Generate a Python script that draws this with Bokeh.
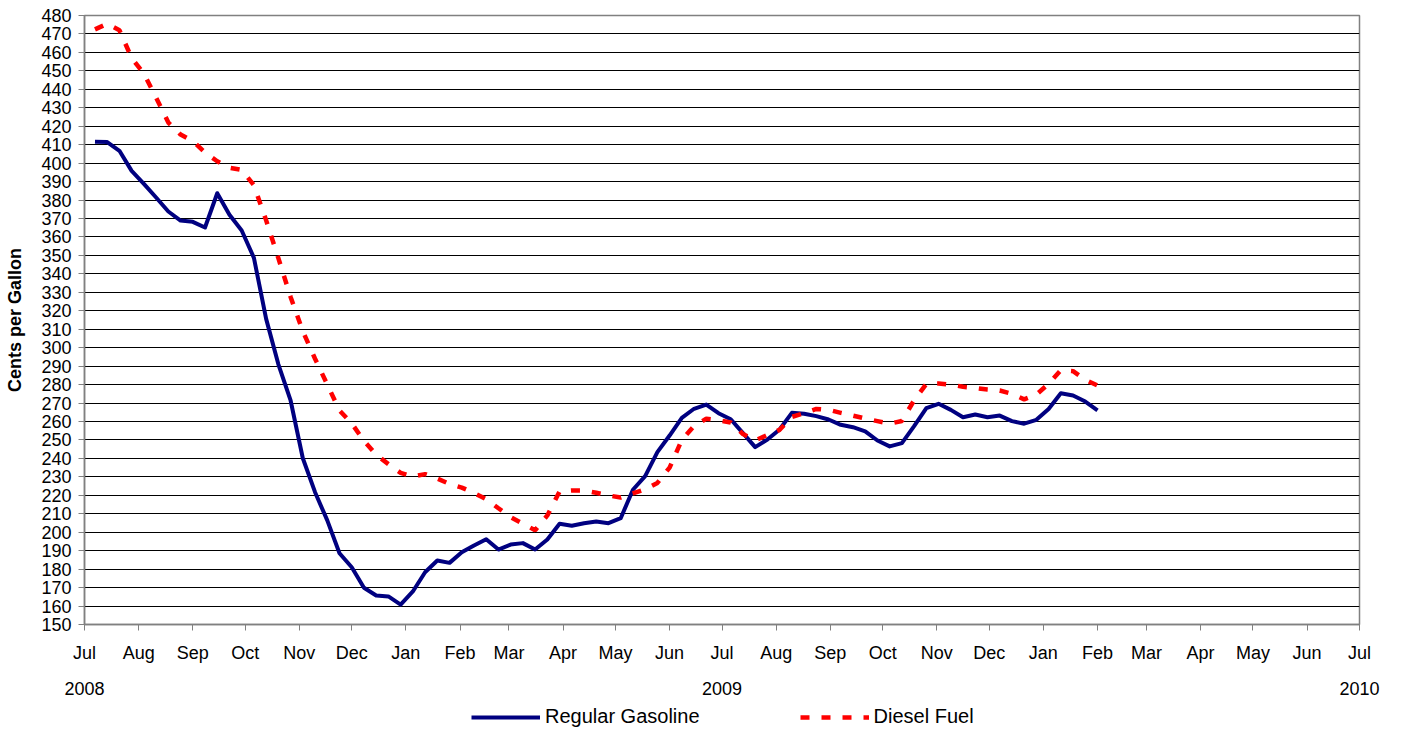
import pandas as pd
from bokeh.plotting import figure
from bokeh.layouts import column
from bokeh.models import (Range1d, DatetimeTickFormatter, MonthsTicker, FixedTicker,
                          Legend, LegendItem, ColumnDataSource, DatetimeAxis)
from bokeh.embed import file_html
from bokeh.resources import INLINE

# ---------------- data (cents per gallon, weekly) ----------------
first_week = "2008-07-07"
gasoline = [411.6, 411.4, 406.7, 395.8, 388.8, 381.4, 373.8, 368.9, 368.2, 365.1,
            383.7, 372.0, 363.5, 348.7, 315.6, 291.0, 271.4, 240.1, 221.7, 206.4,
            188.6, 181.0, 169.9, 165.7, 165.2, 160.8, 167.9, 178.3, 184.7, 183.4,
            189.1, 192.8, 196.2, 190.6, 193.3, 194.1, 190.6, 196.1, 204.6, 203.5,
            204.9, 205.8, 204.9, 207.6, 223.0, 230.4, 243.4, 252.4, 262.0, 266.9,
            269.2, 264.5, 261.2, 253.7, 246.1, 250.2, 255.7, 264.7, 264.2, 262.9,
            261.1, 258.2, 256.9, 254.7, 249.7, 246.5, 248.3, 257.5, 267.2, 269.6,
            266.3, 262.3, 263.8, 262.3, 263.2, 260.2, 258.8, 260.9, 266.8, 275.3,
            274.1, 270.8, 266.0]
diesel = [472.5, 475.5, 472.0, 457.0, 448.5, 435.5, 422.0, 415.5, 412.0, 405.8,
          401.0, 397.5, 396.3, 388.0, 369.0, 348.5, 327.5, 308.9, 294.0, 280.0,
          266.0, 259.0, 249.5, 242.0, 236.9, 232.2, 230.2, 231.5, 229.1, 226.2,
          224.2, 221.3, 217.9, 213.0, 208.2, 204.6, 201.1, 209.1, 222.1, 222.6,
          222.6, 221.4, 219.9, 218.8, 221.0, 223.3, 226.7, 235.0, 250.0, 257.5,
          261.5, 260.7, 259.5, 253.2, 249.7, 252.7, 255.5, 262.5, 264.5, 266.8,
          266.3, 264.7, 263.2, 261.6, 260.2, 258.8, 260.3, 271.5, 280.4, 280.6,
          280.0, 278.8, 278.2, 277.3, 276.8, 275.0, 272.0, 274.6, 280.4, 287.8,
          287.3, 282.6, 279.5]
y_ticks = list(range(150, 481, 10))
year_dates = ["2008-07-01", "2009-07-01", "2010-07-01"]
series_names = ["Regular Gasoline", "Diesel Fuel"]
x_start, x_end = "2008-07-01", "2010-07-01"

weeks = pd.date_range(first_week, periods=len(gasoline), freq="7D")
src = ColumnDataSource(data=dict(week=weeks, gasoline=gasoline, diesel=diesel))

FONT = "Liberation Sans"
AXIS_GREY = "#808080"
GAS_STYLE = dict(line_color="#000080", line_width=4, line_join="round")
DIESEL_STYLE = dict(line_color="#FF0000", line_width=4.5, line_dash="9 12")

x_range = Range1d(pd.Timestamp(x_start), pd.Timestamp(x_end))

p = figure(width=1387, height=704, x_axis_type="datetime",
           x_range=x_range, y_range=Range1d(150, 480),
           output_backend="svg", toolbar_location=None,
           min_border_left=84, min_border_right=28, min_border_top=15,
           min_border_bottom=80)
p.background_fill_color = "white"
p.border_fill_color = "white"
p.outline_line_color = AXIS_GREY
p.outline_line_width = 1.5

# y axis
p.yaxis.ticker = FixedTicker(ticks=y_ticks)
p.yaxis.axis_line_color = AXIS_GREY
p.yaxis.axis_line_width = 1.5
p.yaxis.major_tick_line_color = AXIS_GREY
p.yaxis.major_tick_out = 6
p.yaxis.major_tick_in = 0
p.yaxis.minor_tick_line_color = None
p.yaxis.major_label_text_font = FONT
p.yaxis.major_label_text_font_size = "18px"
p.yaxis.major_label_text_color = "black"
p.yaxis.major_label_standoff = 7
p.yaxis.axis_label = "Cents per Gallon"
p.yaxis.axis_label_text_font = FONT
p.yaxis.axis_label_text_font_style = "bold"
p.yaxis.axis_label_text_font_size = "18px"
p.yaxis.axis_label_text_color = "black"
p.yaxis.axis_label_standoff = 13

# x axis (months)
p.xaxis.ticker = MonthsTicker(months=list(range(12)))
p.xaxis.formatter = DatetimeTickFormatter(months="%b", days="%b", years="%b")
p.xaxis.axis_line_color = AXIS_GREY
p.xaxis.axis_line_width = 1.5
p.xaxis.major_tick_line_color = AXIS_GREY
p.xaxis.major_tick_out = 6
p.xaxis.major_tick_in = 0
p.xaxis.minor_tick_line_color = None
p.xaxis.major_label_text_font = FONT
p.xaxis.major_label_text_font_size = "18px"
p.xaxis.major_label_text_color = "black"
p.xaxis.major_label_standoff = 12

# second row: years
year_axis = DatetimeAxis(
    ticker=FixedTicker(ticks=[pd.Timestamp(d).timestamp() * 1000 for d in year_dates]),
    formatter=DatetimeTickFormatter(years="%Y", months="%Y", days="%Y", hours="%Y"),
    axis_line_color=None, major_tick_line_color=None, minor_tick_line_color=None,
    major_tick_out=0, major_tick_in=0, major_label_standoff=16,
    major_label_text_font=FONT, major_label_text_font_size="18px",
    major_label_text_color="black")
p.add_layout(year_axis, "below")

# grid
p.xgrid.visible = False
p.ygrid.ticker = FixedTicker(ticks=y_ticks)
p.ygrid.grid_line_color = "black"
p.ygrid.grid_line_width = 1

p.line(x="week", y="gasoline", source=src, **GAS_STYLE)
p.line(x="week", y="diesel", source=src, **DIESEL_STYLE)

# ---------------- legend strip below the chart ----------------
# (same series, drawn in a strip whose y range hides the lines, so only the
#  legend entries show)
leg = figure(width=1387, height=24, output_backend="svg", toolbar_location=None,
             x_axis_location=None, y_axis_location=None,
             x_range=x_range, y_range=Range1d(0, 1),
             min_border=0, min_border_left=0, min_border_right=0,
             min_border_top=0, min_border_bottom=0)
leg.outline_line_color = None
leg.grid.visible = False
leg.background_fill_color = "white"
leg.border_fill_color = "white"
g1 = leg.line(x="week", y="gasoline", source=src, **GAS_STYLE)
g2 = leg.line(x="week", y="diesel", source=src, **DIESEL_STYLE)
legend = Legend(items=[LegendItem(label=series_names[0], renderers=[g1]),
                       LegendItem(label=series_names[1], renderers=[g2])],
                orientation="horizontal", location=(387, 0),
                glyph_width=69, glyph_height=20, label_standoff=5, spacing=100,
                padding=0, margin=0, border_line_color=None,
                background_fill_alpha=0, label_text_font=FONT,
                label_text_font_size="20px", label_text_color="black")
leg.add_layout(legend)

open("out.html", "w").write(file_html(column(p, leg, spacing=0), INLINE))
